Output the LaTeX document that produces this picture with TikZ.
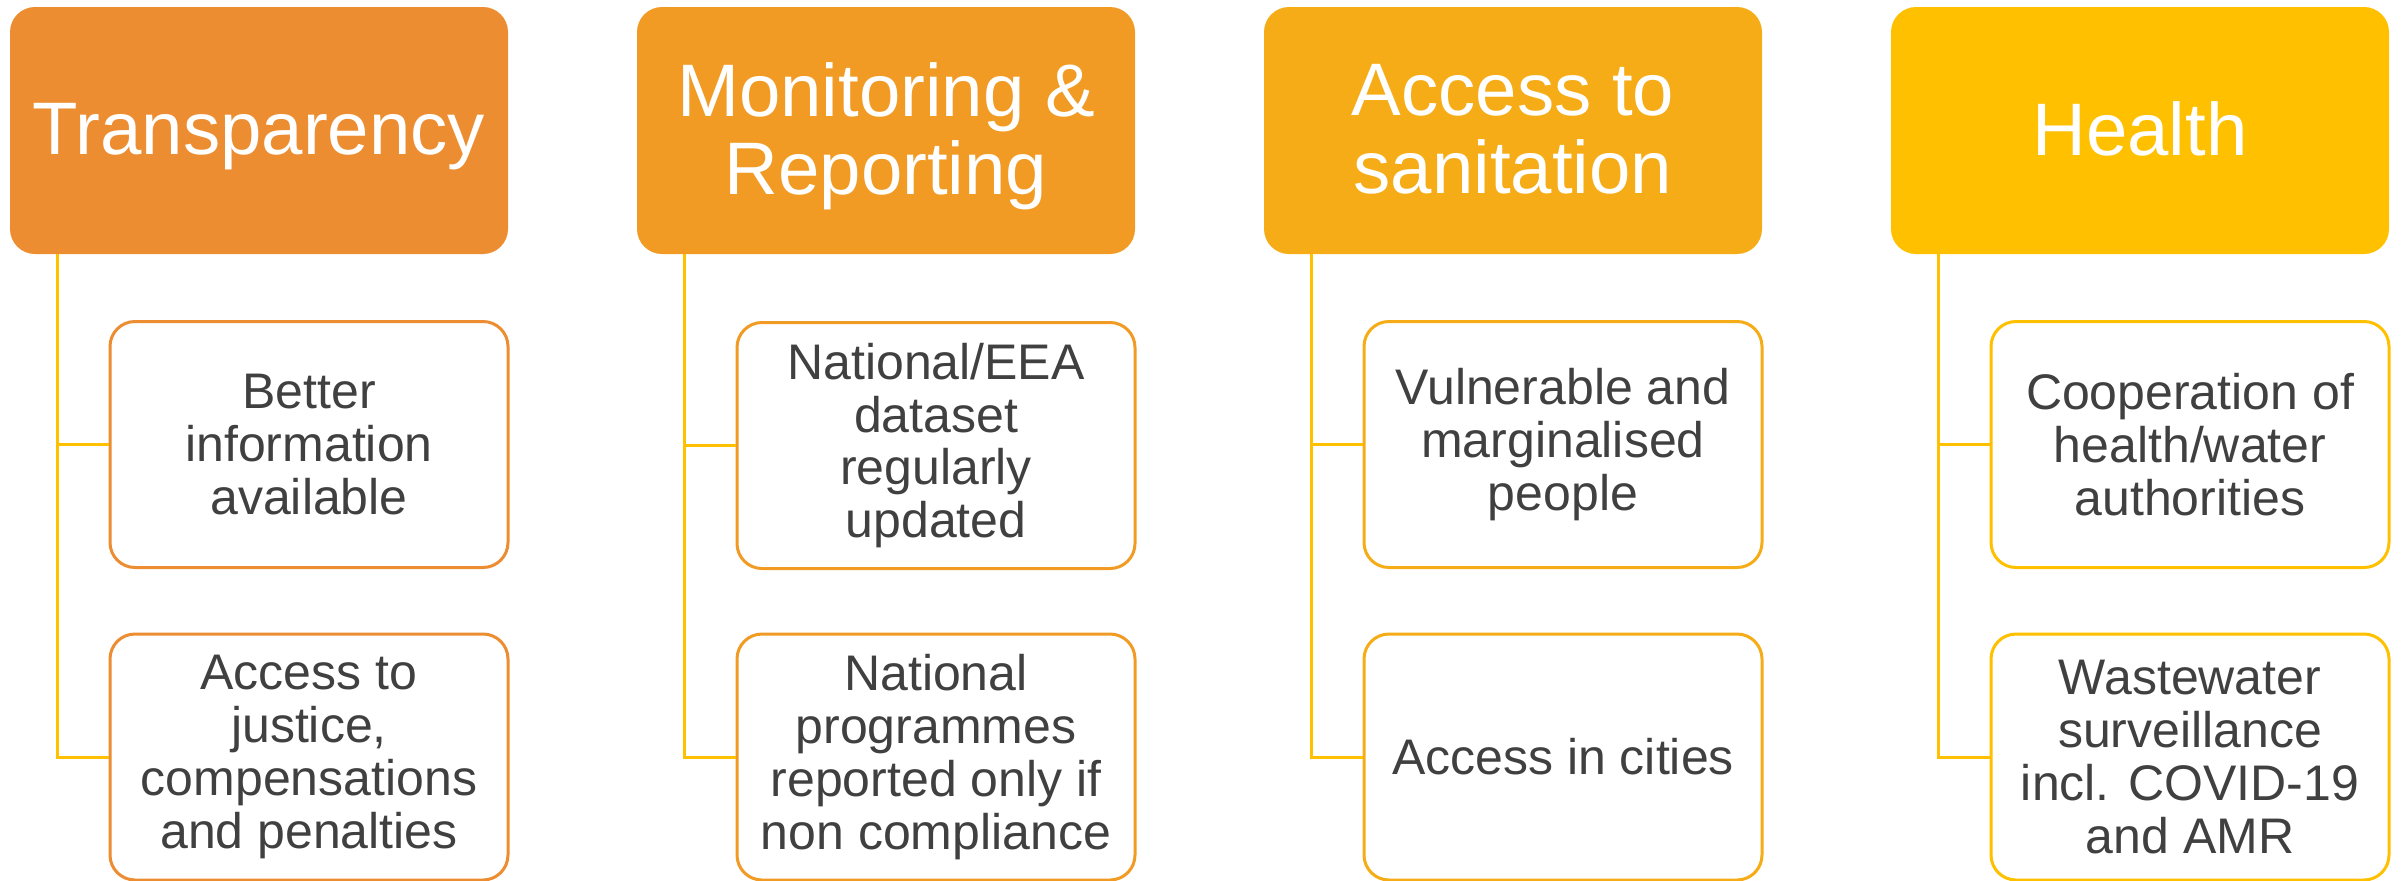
\documentclass[tikz,border=0pt]{standalone}
\usepackage{fontspec}
\setmainfont{Liberation Sans}
\definecolor{hc1}{HTML}{ED8D31}
\definecolor{hc2}{HTML}{F19B24}
\definecolor{hc3}{HTML}{F6AC16}
\definecolor{hc4}{HTML}{FFC000}
\definecolor{linec}{HTML}{FFC000}
\definecolor{txtc}{HTML}{404040}
\newcommand{\hstrut}{\vphantom{Ag}}
\tikzset{
  headbox/.style={fill=#1, draw=none, rounded corners=12.5pt, minimum width=249pt,
    minimum height=123.5pt, inner sep=0pt},
  headtext/.style={inner sep=0pt, align=center, text=white,
    font=\fontsize{37.2}{39.2}\selectfont},
  childbox/.style={draw=#1, line width=1.5pt, fill=white, rounded corners=12.5pt,
    minimum width=199pt, minimum height=123pt, inner sep=0pt, align=center, text=txtc,
    font=\fontsize{25}{26.4}\selectfont},
  conn/.style={draw=linec, line width=1.5pt}
}
\begin{document}
\begin{tikzpicture}[x=0.5pt,y=-0.5pt]
\useasboundingbox (0,0) rectangle (2405,880);
% headers
\node[headbox=hc1] (h1) at (259,130.5) {};
\node[headbox=hc2] (h2) at (886,130.5) {};
\node[headbox=hc3] (h3) at (1513,130.5) {};
\node[headbox=hc4] (h4) at (2140,130.5) {};
\node[headtext] (h1t) at ([yshift=-3pt]h1.center) {Transparency\hstrut};
\node[headtext] (h2t) at ([yshift=-3pt]h2.center) {Monitoring \&\hstrut\\Reporting\hstrut};
\node[headtext] (h3t) at ([yshift=-3pt]h3.center) {Access to\hstrut\\sanitation\hstrut};
\node[headtext] (h4t) at ([yshift=-3pt]h4.center) {Health\hstrut};
% children
\node[childbox=hc1] (c11) at (309,444.5) {Better\\information\\available};
\node[childbox=hc1] (c12) at (309,757) {Access to\\justice,\\compensations\\and penalties};
\node[childbox=hc2] (c21) at (936,445.5) {National/EEA\\dataset\\regularly\\updated};
\node[childbox=hc2] (c22) at (936,757) {National\\programmes\\reported only if\\non compliance};
\node[childbox=hc3] (c31) at (1563,444.5) {Vulnerable and\\marginalised\\people};
\node[childbox=hc3] (c32) at (1563,757) {Access in cities};
\node[childbox=hc4] (c41) at (2190,444.5) {Cooperation of\\health/water\\authorities};
\node[childbox=hc4] (c42) at (2190,757) {Wastewater\\surveillance\\incl. COVID-19\\and AMR};
% trunk start points
\coordinate (t1) at ([xshift=24pt]h1.south west);
\coordinate (t2) at ([xshift=24pt]h2.south west);
\coordinate (t3) at ([xshift=24pt]h3.south west);
\coordinate (t4) at ([xshift=24pt]h4.south west);
\draw[conn] (t1) |- (c12.west);
\draw[conn] (t1 |- c11.west) -- (c11.west);
\draw[conn] (t2) |- (c22.west);
\draw[conn] (t2 |- c21.west) -- (c21.west);
\draw[conn] (t3) |- (c32.west);
\draw[conn] (t3 |- c31.west) -- (c31.west);
\draw[conn] (t4) |- (c42.west);
\draw[conn] (t4 |- c41.west) -- (c41.west);
\end{tikzpicture}
\end{document}
